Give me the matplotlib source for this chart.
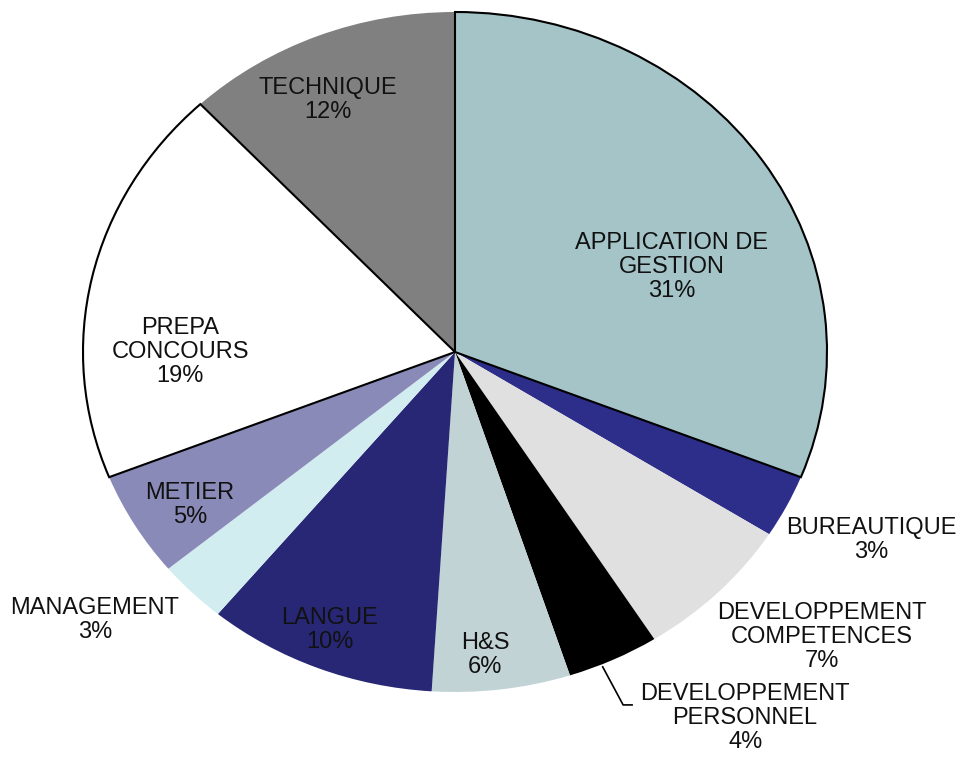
import matplotlib.pyplot as plt

plt.rcParams['font.family'] = ['Liberation Sans', 'DejaVu Sans']

categories = ["APPLICATION DE\nGESTION", "BUREAUTIQUE", "DEVELOPPEMENT\nCOMPETENCES",
              "DEVELOPPEMENT\nPERSONNEL", "H&S", "LANGUE", "MANAGEMENT", "METIER",
              "PREPA\nCONCOURS", "TECHNIQUE"]
shares = [31, 3, 7, 4, 6, 10, 3, 5, 19, 12]
colors = ["#A4C4C8", "#2D2D8A", "#E0E0E0", "#000000", "#C2D3D6",
          "#272775", "#D2EDF0", "#8A8AB8", "#FFFFFF", "#808080"]
outlined = [True, False, False, False, False, False, False, False, True, False]

# label centres in pie units (radius = 1)
label_pos = [(0.583, 0.25), (1.118, -0.553), (0.987, -0.838), (0.78, -1.076),
             (0.081, -0.891), (-0.336, -0.818), (-0.968, -0.788), (-0.712, -0.45),
             (-0.739, 0.0), (-0.341, 0.741)]

fig = plt.figure(figsize=(9.59, 7.57), dpi=100)
ax = fig.add_axes([0, 0, 1, 1])

wedges, _ = ax.pie(shares, colors=colors, startangle=90, counterclock=False,
                   radius=1, wedgeprops=dict(linewidth=0))
for w, o in zip(wedges, outlined):
    if o:
        w.set_edgecolor("black")
        w.set_linewidth(1.5)
        w.set_zorder(3)

for (x, y), cat, s in zip(label_pos, categories, shares):
    ax.text(x, y, f"{cat}\n{s}%", ha="center", va="center", fontsize=17,
            color="#111111", linespacing=1.13, zorder=5)

# leader line for DEVELOPPEMENT PERSONNEL
ax.plot([0.397, 0.452, 0.476], [-0.926, -1.038, -1.038], color="black", lw=1.2, zorder=4)

# the pie in the picture is stretched wider than tall
ax.set_aspect("auto")
ax.set_xlim(-455 / 372, (959 - 455) / 372)
ax.set_ylim(-405 / 340, 352 / 340)
ax.axis("off")

fig.savefig("out.png", dpi=100)
